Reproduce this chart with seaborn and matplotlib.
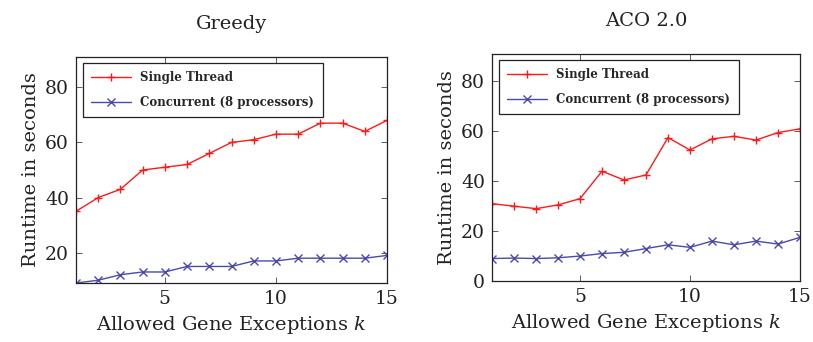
import matplotlib
matplotlib.use("Agg")
import matplotlib.pyplot as plt
import seaborn as sns
import pandas as pd

k = list(range(1, 16))
greedy_single = [35, 40, 43, 50, 51, 52, 56, 60, 61, 63, 63, 67, 67, 64, 68]
greedy_conc = [9, 10, 12, 13, 13, 15, 15, 15, 17, 17, 18, 18, 18, 18, 19]
aco_single = [31, 30, 29, 30.5, 33, 44, 40.5, 42.5, 57.5, 52.5, 57, 58, 56.5, 59.5, 61]
aco_conc = [9, 9.2, 9, 9.3, 10, 11, 11.5, 13, 14.5, 13.5, 16, 14.5, 16, 14.8, 17.5]
titles = ["Greedy", "ACO 2.0"]
series_names = ["Single Thread", "Concurrent (8 processors)"]
xticks = [5, 10, 15]
yticks_left = [20, 40, 60, 80]
yticks_right = [0, 20, 40, 60, 80]

sns.set_style("white")
plt.rcParams['font.family'] = ['DejaVu Serif']
plt.rcParams['mathtext.fontset'] = 'dejavuserif'

fig = plt.figure(figsize=(8.13, 3.42), dpi=100)
W, H = 813, 342
ax1 = fig.add_axes([76 / W, 1 - 283 / H, (387 - 76) / W, (283 - 57) / H])
ax2 = fig.add_axes([492 / W, 1 - 281 / H, (800 - 492) / W, (281 - 54) / H])

red = "#ff1a1a"
blue = "#4a4aaa"
colors = [red, blue]

def draw(ax, single, conc, title, yticks, ylim):
    df = pd.DataFrame({
        "k": k * 2,
        "val": single + conc,
        "series": [series_names[0]] * len(k) + [series_names[1]] * len(k),
    })
    sns.lineplot(data=df, x="k", y="val", hue="series", style="series",
                 palette=colors, markers=["+", "x"], dashes=False,
                 markersize=6, markeredgewidth=1.0, linewidth=1.0, ax=ax,
                 legend=False)
    for line, c in zip(ax.get_lines(), colors):
        line.set_markeredgecolor(c)
        line.set_markerfacecolor(c)
    ax.set_xlim(1, 15)
    ax.set_ylim(*ylim)
    ax.set_xticks(xticks)
    ax.set_yticks(yticks)
    ax.tick_params(direction="in", top=True, right=True, bottom=True, left=True,
                   length=4, width=0.6, color="#444444", labelsize=13.5,
                   labelcolor="#222222", pad=5)
    for s in ax.spines.values():
        s.set_color("#222222")
        s.set_linewidth(0.9)
    ax.set_title(title, fontsize=14, pad=20, color="#222222")
    ax.set_xlabel("Allowed Gene Exceptions $k$", fontsize=14, color="#222222",
                  labelpad=4)
    ax.set_ylabel("Runtime in seconds", fontsize=14, color="#222222", labelpad=4)
    leg = ax.legend(ax.get_lines()[:2], series_names, loc="upper left",
                    frameon=True, fancybox=False,
                    edgecolor="#222222", framealpha=1,
                    prop={"family": "DejaVu Serif", "weight": "bold", "size": 8.5},
                    handlelength=3.4, borderpad=0.7, labelspacing=1.0,
                    bbox_to_anchor=(0.01, 0.99), borderaxespad=0.3)
    leg.get_frame().set_linewidth(0.9)

draw(ax1, greedy_single, greedy_conc, titles[0], yticks_left, (9, 91))
draw(ax2, aco_single, aco_conc, titles[1], yticks_right, (0, 91))

fig.savefig("out.png", dpi=100)
